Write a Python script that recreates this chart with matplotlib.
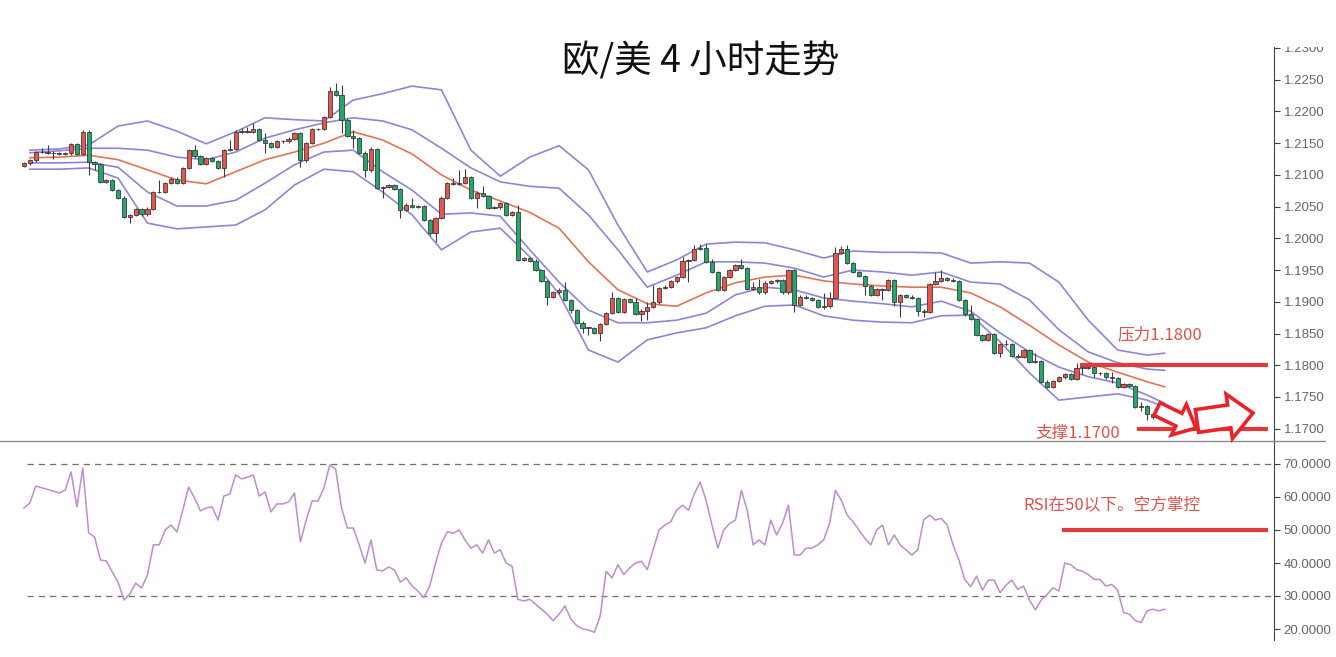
import matplotlib
matplotlib.use("Agg")
import matplotlib.pyplot as plt
import matplotlib.patches as mpatches
from matplotlib.lines import Line2D
from matplotlib.transforms import IdentityTransform
from matplotlib.ticker import FormatStrFormatter, MultipleLocator
import numpy as np

# ---- data (EUR/USD 4h) ----
first_open = 1.2114
closes = [
    1.2118,
    1.2123, 1.2136, 1.2136, 1.2135, 1.2134, 1.2133, 1.2134, 1.2149, 1.2133, 1.2168,
    1.2120, 1.2117, 1.2089, 1.2092, 1.2076, 1.2064, 1.2034, 1.2037, 1.2046, 1.2038,
    1.2047, 1.2073, 1.2073, 1.2087, 1.2094, 1.2087, 1.2111, 1.2139, 1.2129, 1.2117,
    1.2126, 1.2122, 1.2111, 1.2139, 1.2141, 1.2168, 1.2168, 1.2168, 1.2172,
    1.2155, 1.2150, 1.2144, 1.2153, 1.2153, 1.2157, 1.2166, 1.2123, 1.2150, 1.2172,
    1.2172, 1.2191, 1.2232, 1.2226, 1.2187, 1.2161, 1.2158, 1.2135, 1.2107, 1.2141,
    1.2080, 1.2081, 1.2084, 1.2078, 1.2045, 1.2053, 1.2050, 1.2051, 1.2029, 1.2008,
    1.2032, 1.2064, 1.2087, 1.2086, 1.2087, 1.2097, 1.2064, 1.2072, 1.2067, 1.2048,
    1.2049, 1.2056, 1.2037, 1.2041, 1.1966, 1.1969, 1.1965, 1.1950, 1.1933, 1.1908,
    1.1915, 1.1919, 1.1903, 1.1887, 1.1867, 1.1859, 1.1859, 1.1851, 1.1865, 1.1882,
    1.1906, 1.1884, 1.1904, 1.1900, 1.1881, 1.1886, 1.1892, 1.1899, 1.1922, 1.1924,
    1.1932, 1.1939, 1.1964, 1.1966, 1.1983, 1.1985, 1.1963, 1.1947, 1.1919,
    1.1939, 1.1950, 1.1958, 1.1953, 1.1920, 1.1923, 1.1915, 1.1930, 1.1932, 1.1934,
    1.1915, 1.1950, 1.1895, 1.1908, 1.1906, 1.1903, 1.1892, 1.1893, 1.1906, 1.1977,
    1.1983, 1.1961, 1.1947, 1.1941, 1.1925, 1.1911, 1.1920, 1.1919, 1.1934, 1.1900,
    1.1911, 1.1908, 1.1906, 1.1886, 1.1884, 1.1928, 1.1933, 1.1937, 1.1935,
    1.1933, 1.1903, 1.1881, 1.1873, 1.1848, 1.1840, 1.1849, 1.1819, 1.1833, 1.1833,
    1.1815, 1.1813, 1.1824, 1.1805, 1.1807, 1.1774, 1.1766, 1.1775, 1.1781, 1.1786,
    1.1778, 1.1796, 1.1796, 1.1797, 1.1788, 1.1787, 1.1781, 1.1780, 1.1766, 1.1770,
    1.1767, 1.1734, 1.1736, 1.1723, 1.1718, 1.1723, 1.1726,
]

# wick length above / below the body, in pips
wick_hi = [
    2, 2, 2, 6, 11, 2, 2, 2, 2, 2, 3, 2, 2, 2, 2, 2, 2, 2, 2, 2,
    2, 2, 2, 19, 2, 2, 2, 2, 2, 8, 2, 2, 2, 2, 2, 14, 2, 6, 8, 10,
    2, 11, 2, 2, 2, 2, 2, 2, 2, 2, 2, 2, 7, 13, 16, 2, 10, 2, 2, 3,
    2, 2, 2, 2, 2, 2, 11, 2, 2, 2, 2, 2, 2, 8, 20, 12, 2, 2, 11, 2,
    2, 2, 2, 2, 11, 2, 2, 2, 2, 2, 2, 2, 12, 2, 2, 2, 2, 2, 2, 2,
    9, 2, 2, 2, 6, 2, 8, 27, 2, 2, 2, 2, 6, 2, 7, 6, 6, 5, 2, 2,
    2, 2, 9, 2, 8, 13, 2, 2, 2, 2, 2, 2, 2, 2, 2, 2, 21, 9, 9, 5,
    7, 2, 2, 2, 2, 2, 2, 2, 2, 2, 2, 2, 2, 2, 2, 14, 13, 2, 2, 2,
    2, 14, 2, 2, 2, 2, 2, 7, 2, 2, 2, 2, 12, 2, 2, 2, 2, 2, 2, 8,
    2, 2, 3, 2, 2, 9, 2, 2, 2, 2, 6, 2, 2, 2, 2,
]
wick_lo = [
    2, 2, 2, 2, 2, 9, 2, 2, 2, 2, 2, 20, 10, 2, 2, 2, 2, 2, 10, 2,
    2, 2, 2, 2, 2, 2, 2, 2, 2, 2, 2, 2, 2, 2, 14, 2, 2, 2, 2, 2,
    2, 15, 2, 2, 2, 2, 2, 11, 2, 2, 2, 2, 2, 2, 21, 2, 16, 2, 10, 2,
    2, 16, 2, 2, 13, 2, 2, 2, 2, 2, 14, 2, 2, 2, 2, 2, 2, 16, 2, 2,
    2, 2, 2, 2, 2, 2, 2, 2, 2, 13, 2, 2, 2, 5, 2, 8, 11, 2, 13, 2,
    2, 2, 2, 2, 2, 11, 15, 2, 2, 2, 2, 2, 2, 33, 2, 2, 2, 2, 2, 2,
    2, 2, 2, 2, 2, 2, 2, 2, 2, 2, 2, 11, 2, 2, 2, 2, 3, 2, 2, 2,
    2, 2, 2, 14, 2, 2, 16, 2, 7, 24, 2, 2, 8, 8, 2, 2, 2, 2, 2, 2,
    4, 2, 2, 2, 2, 2, 6, 2, 2, 2, 2, 2, 2, 2, 2, 2, 2, 2, 2, 2,
    10, 2, 7, 2, 2, 8, 2, 2, 2, 2, 6, 9, 2, 2, 2,
]

rsi = [
    56.7, 58.2, 63.3, 62.8, 62.3, 61.8, 61.2, 62.1, 67.6, 57.0,
    68.8, 49.1, 47.9, 40.9, 40.6, 37.3, 34.2, 28.8, 30.6, 33.9,
    32.4, 36.4, 45.5, 45.5, 50.0, 51.5, 49.4, 56.0, 63.0, 59.7,
    55.8, 56.7, 57.0, 53.0, 60.3, 60.9, 66.7, 65.5, 66.0, 66.7,
    60.3, 61.5, 55.5, 57.9, 57.9, 58.5, 61.2, 46.4, 53.0, 58.8,
    58.8, 62.7, 69.7, 68.5, 56.7, 50.6, 50.6, 45.5, 40.0, 47.0,
    37.9, 37.6, 38.8, 37.9, 34.2, 35.5, 33.0, 31.5, 29.5, 33.0,
    40.0, 46.0, 49.5, 49.0, 50.0, 47.0, 44.5, 45.5, 43.0, 47.0,
    43.0, 44.0, 40.0, 39.0, 29.0, 28.5, 29.0, 27.5, 26.0, 24.5,
    22.5, 24.5, 27.0, 23.0, 21.0, 20.0, 19.7, 19.0, 24.0, 37.5,
    35.5, 39.5, 36.5, 38.5, 40.0, 40.5, 38.0, 44.0, 50.0, 51.5,
    52.5, 56.0, 57.5, 56.0, 61.0, 64.5, 59.0, 51.5, 44.5, 50.0,
    52.0, 53.0, 62.0, 56.0, 45.5, 47.0, 45.5, 53.0, 48.5, 52.0,
    57.5, 42.4, 42.4, 44.5, 44.5, 45.5, 47.0, 52.0, 62.0, 59.0,
    54.5, 52.5, 50.0, 47.5, 45.5, 50.0, 51.5, 45.5, 48.5, 45.5,
    44.0, 42.4, 44.0, 53.0, 54.5, 53.0, 53.5, 51.5, 45.5, 40.9,
    35.0, 32.8, 36.0, 31.8, 34.8, 34.8, 31.0, 33.3, 34.8, 32.0,
    33.0, 28.8, 25.8, 28.8, 30.5, 32.5, 31.5, 40.0, 39.5, 38.0,
    37.5, 36.5, 35.0, 35.0, 33.0, 33.5, 31.8, 25.0, 24.5, 22.5,
    22.0, 25.5, 26.0, 25.5, 26.0,
]

# Bollinger style bands, read every 5 candles
band_idx = list(range(1, 192, 5)) + [194]
bb_outer_up = [
    1.2139, 1.2141, 1.2147, 1.2177, 1.2185, 1.2169, 1.2149, 1.2168, 1.2190, 1.2187,
    1.2185, 1.2218, 1.2228, 1.2240, 1.2234, 1.2139, 1.2098, 1.2128, 1.2146, 1.2108,
    1.2021, 1.1947, 1.1966, 1.1991, 1.1994, 1.1993, 1.1982, 1.1969, 1.1980, 1.1978,
    1.1978, 1.1977, 1.1961, 1.1963, 1.1961, 1.1931, 1.1871, 1.1824, 1.1816, 1.1819,
]
bb_inner_up = [
    1.2135, 1.2138, 1.2142, 1.2142, 1.2139, 1.2128, 1.2124, 1.2136, 1.2158, 1.2171,
    1.2182, 1.2190, 1.2185, 1.2171, 1.2142, 1.2111, 1.2089, 1.2082, 1.2079, 1.2037,
    1.1982, 1.1923, 1.1942, 1.1963, 1.1963, 1.1961, 1.1953, 1.1939, 1.1950, 1.1947,
    1.1942, 1.1947, 1.1931, 1.1928, 1.1903, 1.1856, 1.1821, 1.1804, 1.1794, 1.1792,
]
bb_mid = [
    1.2127, 1.2128, 1.2131, 1.2124, 1.2108, 1.2092, 1.2086, 1.2105, 1.2124, 1.2136,
    1.2150, 1.2168, 1.2155, 1.2133, 1.2100, 1.2076, 1.2059, 1.2041, 1.2016, 1.1963,
    1.1919, 1.1897, 1.1893, 1.1914, 1.1930, 1.1939, 1.1942, 1.1933, 1.1928, 1.1925,
    1.1923, 1.1923, 1.1914, 1.1892, 1.1863, 1.1832, 1.1805, 1.1789, 1.1774, 1.1766,
]
bb_inner_lo = [
    1.2119, 1.2119, 1.2120, 1.2112, 1.2073, 1.2051, 1.2051, 1.2060, 1.2087, 1.2116,
    1.2136, 1.2139, 1.2105, 1.2076, 1.2038, 1.2040, 1.2035, 1.1982, 1.1931, 1.1887,
    1.1867, 1.1867, 1.1871, 1.1882, 1.1911, 1.1923, 1.1919, 1.1906, 1.1901, 1.1897,
    1.1892, 1.1901, 1.1885, 1.1851, 1.1821, 1.1797, 1.1782, 1.1772, 1.1753, 1.1740,
]
bb_outer_lo = [
    1.2109, 1.2109, 1.2111, 1.2095, 1.2024, 1.2015, 1.2018, 1.2021, 1.2045, 1.2084,
    1.2109, 1.2105, 1.2073, 1.2037, 1.1982, 1.2010, 1.2016, 1.1971, 1.1912, 1.1824,
    1.1805, 1.1840, 1.1851, 1.1859, 1.1878, 1.1893, 1.1895, 1.1878, 1.1871, 1.1868,
    1.1867, 1.1878, 1.1879, 1.1837, 1.1788, 1.1745, 1.1750, 1.1755, 1.1745, 1.1734,
]

resistance = 1.1800
support = 1.1700
rsi_level = 50
rsi_bounds = [30, 70]
title = "欧/美 4 小时走势"
label_res = "压力1.1800"
label_sup = "支撑1.1700"
label_rsi = "RSI在50以下。空方掌控"

# ---- styling ----
cjk = ["Noto Sans CJK SC", "DejaVu Sans"]
plt.rcParams["font.family"] = ["Liberation Sans", "DejaVu Sans"]
RED = "#e8554e"
GREEN = "#22a86b"
EDGE = "#3b3b3b"
BAND = "#8d86d4"
MID = "#e0735a"
MARK = "#e03a3a"
NOTE = "#d9534f"
W, H = 1336, 657

fig = plt.figure(figsize=(W / 100, H / 100), dpi=100)
ax = fig.add_axes([0, 1 - 441 / H, 1274 / W, 401 / H])
ax2 = fig.add_axes([0, 1 - 640 / H, 1274 / W, 199 / H], sharex=ax)

c = np.array(closes)
o = np.r_[first_open, c[:-1]]
idx = np.arange(len(c))
pip = 0.0001
top = np.maximum(o, c)
bot = np.minimum(o, c)
hi = top + np.array(wick_hi) * pip
lo = bot - np.array(wick_lo) * pip
colors = np.where(c >= o, RED, GREEN)

for band in (bb_outer_up, bb_inner_up, bb_inner_lo, bb_outer_lo):
    ax.plot(band_idx, band, color=BAND, lw=1.2, zorder=1, solid_joinstyle="round")
ax.plot(band_idx, bb_mid, color=MID, lw=1.2, zorder=1, solid_joinstyle="round")

ax.vlines(idx, lo, hi, color=EDGE, lw=0.8, zorder=2)
ax.bar(idx, np.maximum(top - bot, 0.00005), bottom=bot, width=0.72,
       color=colors, edgecolor=EDGE, linewidth=0.6, zorder=3)

# level lines and notes
ax.hlines(resistance, 179.6, 211.6, color=MARK, lw=3, zorder=4)
ax.hlines(support, 189.3, 211.6, color=MARK, lw=3, zorder=4)
ax.text(186.0, 1.1848, label_res, color=NOTE, fontsize=12, family=cjk,
        ha="left", va="center")
ax.text(172.0, 1.1693, label_sup, color=NOTE, fontsize=12, family=cjk,
        ha="left", va="center")

x_left = -24 / 5.88
x_right = (1274 - 24) / 5.88
ax.set_xlim(x_left, x_right)
ax.set_ylim(1.2300 - (441 - 48) / 6345, 1.2300 + 8 / 6345)
ax.yaxis.set_major_locator(MultipleLocator(0.005))
ax.yaxis.set_major_formatter(FormatStrFormatter("%.4f"))

ax2.plot(idx, rsi, color="#bf8ccd", lw=1.1, zorder=2)
ax2.hlines(rsi_bounds, 0.5, x_right, colors="#6f6f6f", linestyles=(0, (5, 4)),
           lw=0.9, zorder=1)
ax2.hlines(rsi_level, 176.5, 211.6, color=MARK, lw=3, zorder=4)
ax2.text(170.0, 57.6, label_rsi, color=NOTE, fontsize=12, family=cjk,
         ha="left", va="center")
ax2.set_ylim(30 - 44 / 3.3, 70 + 23 / 3.3)
ax2.yaxis.set_major_locator(MultipleLocator(10))
ax2.yaxis.set_major_formatter(FormatStrFormatter("%.4f"))

for a in (ax, ax2):
    for side in ("top", "left", "bottom"):
        a.spines[side].set_visible(False)
    a.spines["right"].set_color("#444444")
    a.yaxis.tick_right()
    a.tick_params(axis="y", direction="out", length=4, width=0.8,
                  color="#444444", labelcolor="#666666", labelsize=9.5, pad=3)
    a.tick_params(axis="x", bottom=False, labelbottom=False)
    a.set_facecolor("none")

# separator under the price panel
fig.add_artist(Line2D([0, 1325 / W], [1 - 441 / H] * 2, transform=fig.transFigure,
                      color="#8a8a8a", lw=1.0))

# hollow arrows (pixel coordinates)
arrow_kw = dict(length_includes_head=True, facecolor="white", edgecolor="#e8242a",
                lw=2.6, transform=IdentityTransform(), zorder=6, clip_on=False)
fig.add_artist(mpatches.FancyArrow(1157, H - 409, 39, -19, width=14, head_width=34,
                                   head_length=19, **arrow_kw))
fig.add_artist(mpatches.FancyArrow(1197, H - 421, 56, 8, width=23, head_width=45,
                                   head_length=24, **arrow_kw))

# white band above the chart holding the title (clips the top tick label)
fig.add_artist(mpatches.Rectangle((0, 1 - 47 / H), 1, 47 / H, transform=fig.transFigure,
                                  facecolor="white", edgecolor="none", zorder=8))
fig.text(701 / W, 1 - 62 / H, title, fontsize=27, family=cjk, fontweight="light",
         color="#111111", ha="center", va="center", zorder=9)

fig.savefig("out.png", dpi=100, facecolor="white")
